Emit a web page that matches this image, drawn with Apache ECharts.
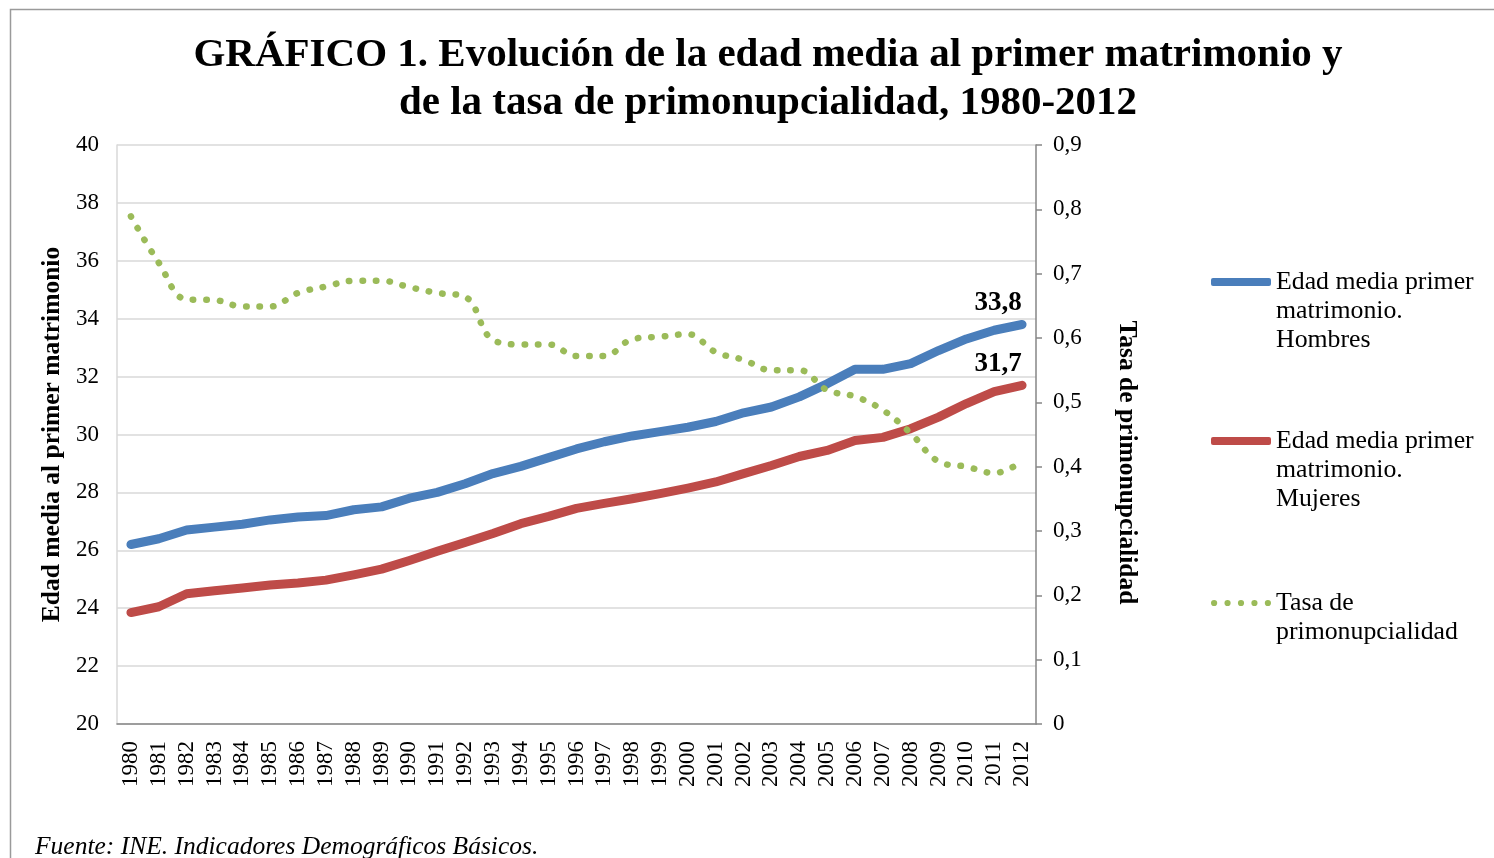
<!DOCTYPE html>
<html>
<head>
<meta charset="utf-8">
<title>Gráfico 1</title>
<script src="https://cdn.jsdelivr.net/npm/echarts@6/dist/echarts.min.js"></script>
<style>
  html, body { margin: 0; padding: 0; background: #fff; }
  #chart { width: 1494px; height: 858px; }
</style>
</head>
<body>
<div id="chart"></div>
<script>
// años del eje X
const years = ['1980', '1981', '1982', '1983', '1984', '1985', '1986', '1987', '1988', '1989',
  '1990', '1991', '1992', '1993', '1994', '1995', '1996', '1997', '1998', '1999',
  '2000', '2001', '2002', '2003', '2004', '2005', '2006', '2007', '2008', '2009',
  '2010', '2011', '2012'];

// edad media al primer matrimonio (eje izquierdo)
const hombres = [26.2, 26.4, 26.7, 26.8, 26.9, 27.05, 27.15, 27.2, 27.4, 27.5,
  27.8, 28.0, 28.3, 28.65, 28.9, 29.2, 29.5, 29.75, 29.95, 30.1,
  30.25, 30.45, 30.75, 30.95, 31.3, 31.75, 32.25, 32.25, 32.45, 32.9,
  33.3, 33.6, 33.8];
const mujeres = [23.85, 24.05, 24.5, 24.6, 24.7, 24.8, 24.87, 24.97, 25.15, 25.35,
  25.65, 25.97, 26.27, 26.58, 26.92, 27.17, 27.45, 27.62, 27.78, 27.96,
  28.15, 28.36, 28.65, 28.93, 29.24, 29.45, 29.79, 29.9, 30.2, 30.6,
  31.07, 31.48, 31.7];

// tasa de primonupcialidad (eje derecho)
const tasa = [0.789, 0.717, 0.66, 0.659, 0.649, 0.649, 0.67, 0.68, 0.689, 0.689,
  0.679, 0.67, 0.664, 0.597, 0.59, 0.59, 0.572, 0.572, 0.598, 0.602,
  0.606, 0.578, 0.566, 0.55, 0.55, 0.519, 0.509, 0.488, 0.452, 0.408,
  0.4, 0.39, 0.408];

const nameH = 'Edad media primer\nmatrimonio.\nHombres';
const nameM = 'Edad media primer\nmatrimonio.\nMujeres';
const nameT = 'Tasa de\nprimonupcialidad';

const serif = '"Liberation Serif", "Times New Roman", serif';
const last = years.length - 1;

// solo se etiqueta el último punto (2012)
const endLabel = {
  show: true,
  position: 'top',
  offset: [-24, -2],
  fontFamily: serif,
  fontSize: 27,
  fontWeight: 'bold',
  color: '#000',
  formatter: p => (p.dataIndex === last ? String(p.value).replace('.', ',') : '')
};

const dotsIcon = 'path://M0,3a3,3 0 1,0 6,0a3,3 0 1,0 -6,0M13,3a3,3 0 1,0 6,0a3,3 0 1,0 -6,0' +
  'M26,3a3,3 0 1,0 6,0a3,3 0 1,0 -6,0M39,3a3,3 0 1,0 6,0a3,3 0 1,0 -6,0M52,3a3,3 0 1,0 6,0a3,3 0 1,0 -6,0';

// leyenda: el icono se alinea con la primera línea del texto
function legendFor(name, icon, top) {
  const n = name.split('\n').length;
  return {
    orient: 'vertical',
    left: 1211,
    top: top,
    padding: 0,
    itemWidth: 60,
    itemHeight: 8,
    icon: icon,
    formatter: s => '\n'.repeat(n - 1) + s,
    textStyle: { fontFamily: serif, fontSize: 25.8, color: '#000', lineHeight: 29 },
    data: [name]
  };
}

const options = {
  backgroundColor: '#fff',
  animation: false,
  title: {
    text: 'GRÁFICO 1. Evolución de la edad media al primer matrimonio y\nde la tasa de primonupcialidad, 1980-2012',
    left: 763,
    top: 26,
    textAlign: 'center',
    textStyle: { fontFamily: serif, fontSize: 41, fontWeight: 'bold', color: '#000', lineHeight: 48 }
  },
  grid: { left: 117, right: 458, top: 145, bottom: 134 },
  legend: [
    legendFor(nameH, 'roundRect', 282 - 72.5),
    legendFor(nameM, 'roundRect', 441 - 72.5),
    legendFor(nameT, dotsIcon, 603 - 43.5)
  ],
  xAxis: {
    type: 'category',
    data: years,
    axisLine: { lineStyle: { color: '#868686', width: 1.5 } },
    axisTick: { show: false },
    axisLabel: { rotate: 90, interval: 0, margin: 17, fontFamily: serif, fontSize: 23, color: '#000' }
  },
  yAxis: [
    {
      type: 'value',
      min: 20,
      max: 40,
      interval: 2,
      name: 'Edad media al primer matrimonio',
      nameLocation: 'middle',
      nameGap: 47,
      nameTextStyle: { fontFamily: serif, fontSize: 25.5, fontWeight: 'bold', color: '#000' },
      axisLine: { show: true, lineStyle: { color: '#d9d9d9', width: 1.5 } },
      axisTick: { show: false },
      axisLabel: { margin: 18, fontFamily: serif, fontSize: 23, color: '#000' },
      splitLine: { lineStyle: { color: '#d9d9d9', width: 1.5 } }
    },
    {
      type: 'value',
      min: 0,
      max: 0.9,
      interval: 0.1,
      name: 'Tasa de primonupcialidad',
      nameLocation: 'middle',
      nameRotate: -90,
      nameGap: 78,
      nameTextStyle: { fontFamily: serif, fontSize: 25.5, fontWeight: 'bold', color: '#000', padding: [0, 0, 0, 56] },
      axisLine: { show: true, lineStyle: { color: '#868686', width: 1.5 } },
      axisTick: { show: true, length: 6, lineStyle: { color: '#868686', width: 1.5 } },
      axisLabel: {
        margin: 17,
        fontFamily: serif,
        fontSize: 23,
        color: '#000',
        formatter: v => (v === 0 ? '0' : v.toFixed(1).replace('.', ','))
      },
      splitLine: { show: false }
    }
  ],
  series: [
    {
      name: nameH,
      type: 'line',
      yAxisIndex: 0,
      data: hombres,
      symbol: 'circle',
      symbolSize: 1,
      showSymbol: true,
      lineStyle: { color: '#4a7ebb', width: 9, cap: 'round', join: 'round' },
      itemStyle: { color: '#4a7ebb' },
      label: endLabel
    },
    {
      name: nameM,
      type: 'line',
      yAxisIndex: 0,
      data: mujeres,
      symbol: 'circle',
      symbolSize: 1,
      showSymbol: true,
      lineStyle: { color: '#be4b48', width: 9, cap: 'round', join: 'round' },
      itemStyle: { color: '#be4b48' },
      label: endLabel
    },
    {
      name: nameT,
      type: 'line',
      yAxisIndex: 1,
      data: tasa,
      symbol: 'none',
      smooth: 0.4,
      lineStyle: { color: '#9bbb59', width: 6.5, type: [0.5, 13], cap: 'round' },
      itemStyle: { color: '#9bbb59' }
    }
  ],
  graphic: [
    {
      type: 'rect',
      silent: true,
      shape: { x: 10.5, y: 9.5, width: 1600, height: 1000 },
      style: { fill: 'none', stroke: '#9a9a9a', lineWidth: 1.5 }
    },
    {
      type: 'text',
      left: 35,
      top: 834,
      style: { text: 'Fuente: INE. Indicadores Demográficos Básicos.', fontFamily: serif, fontSize: 25.5, fontStyle: 'italic', fill: '#000' }
    }
  ]
};

const chart = echarts.init(document.getElementById('chart'));
chart.setOption(options);

window.addEventListener('resize', () => {
  chart.resize();
});
</script>
</body>
</html>
